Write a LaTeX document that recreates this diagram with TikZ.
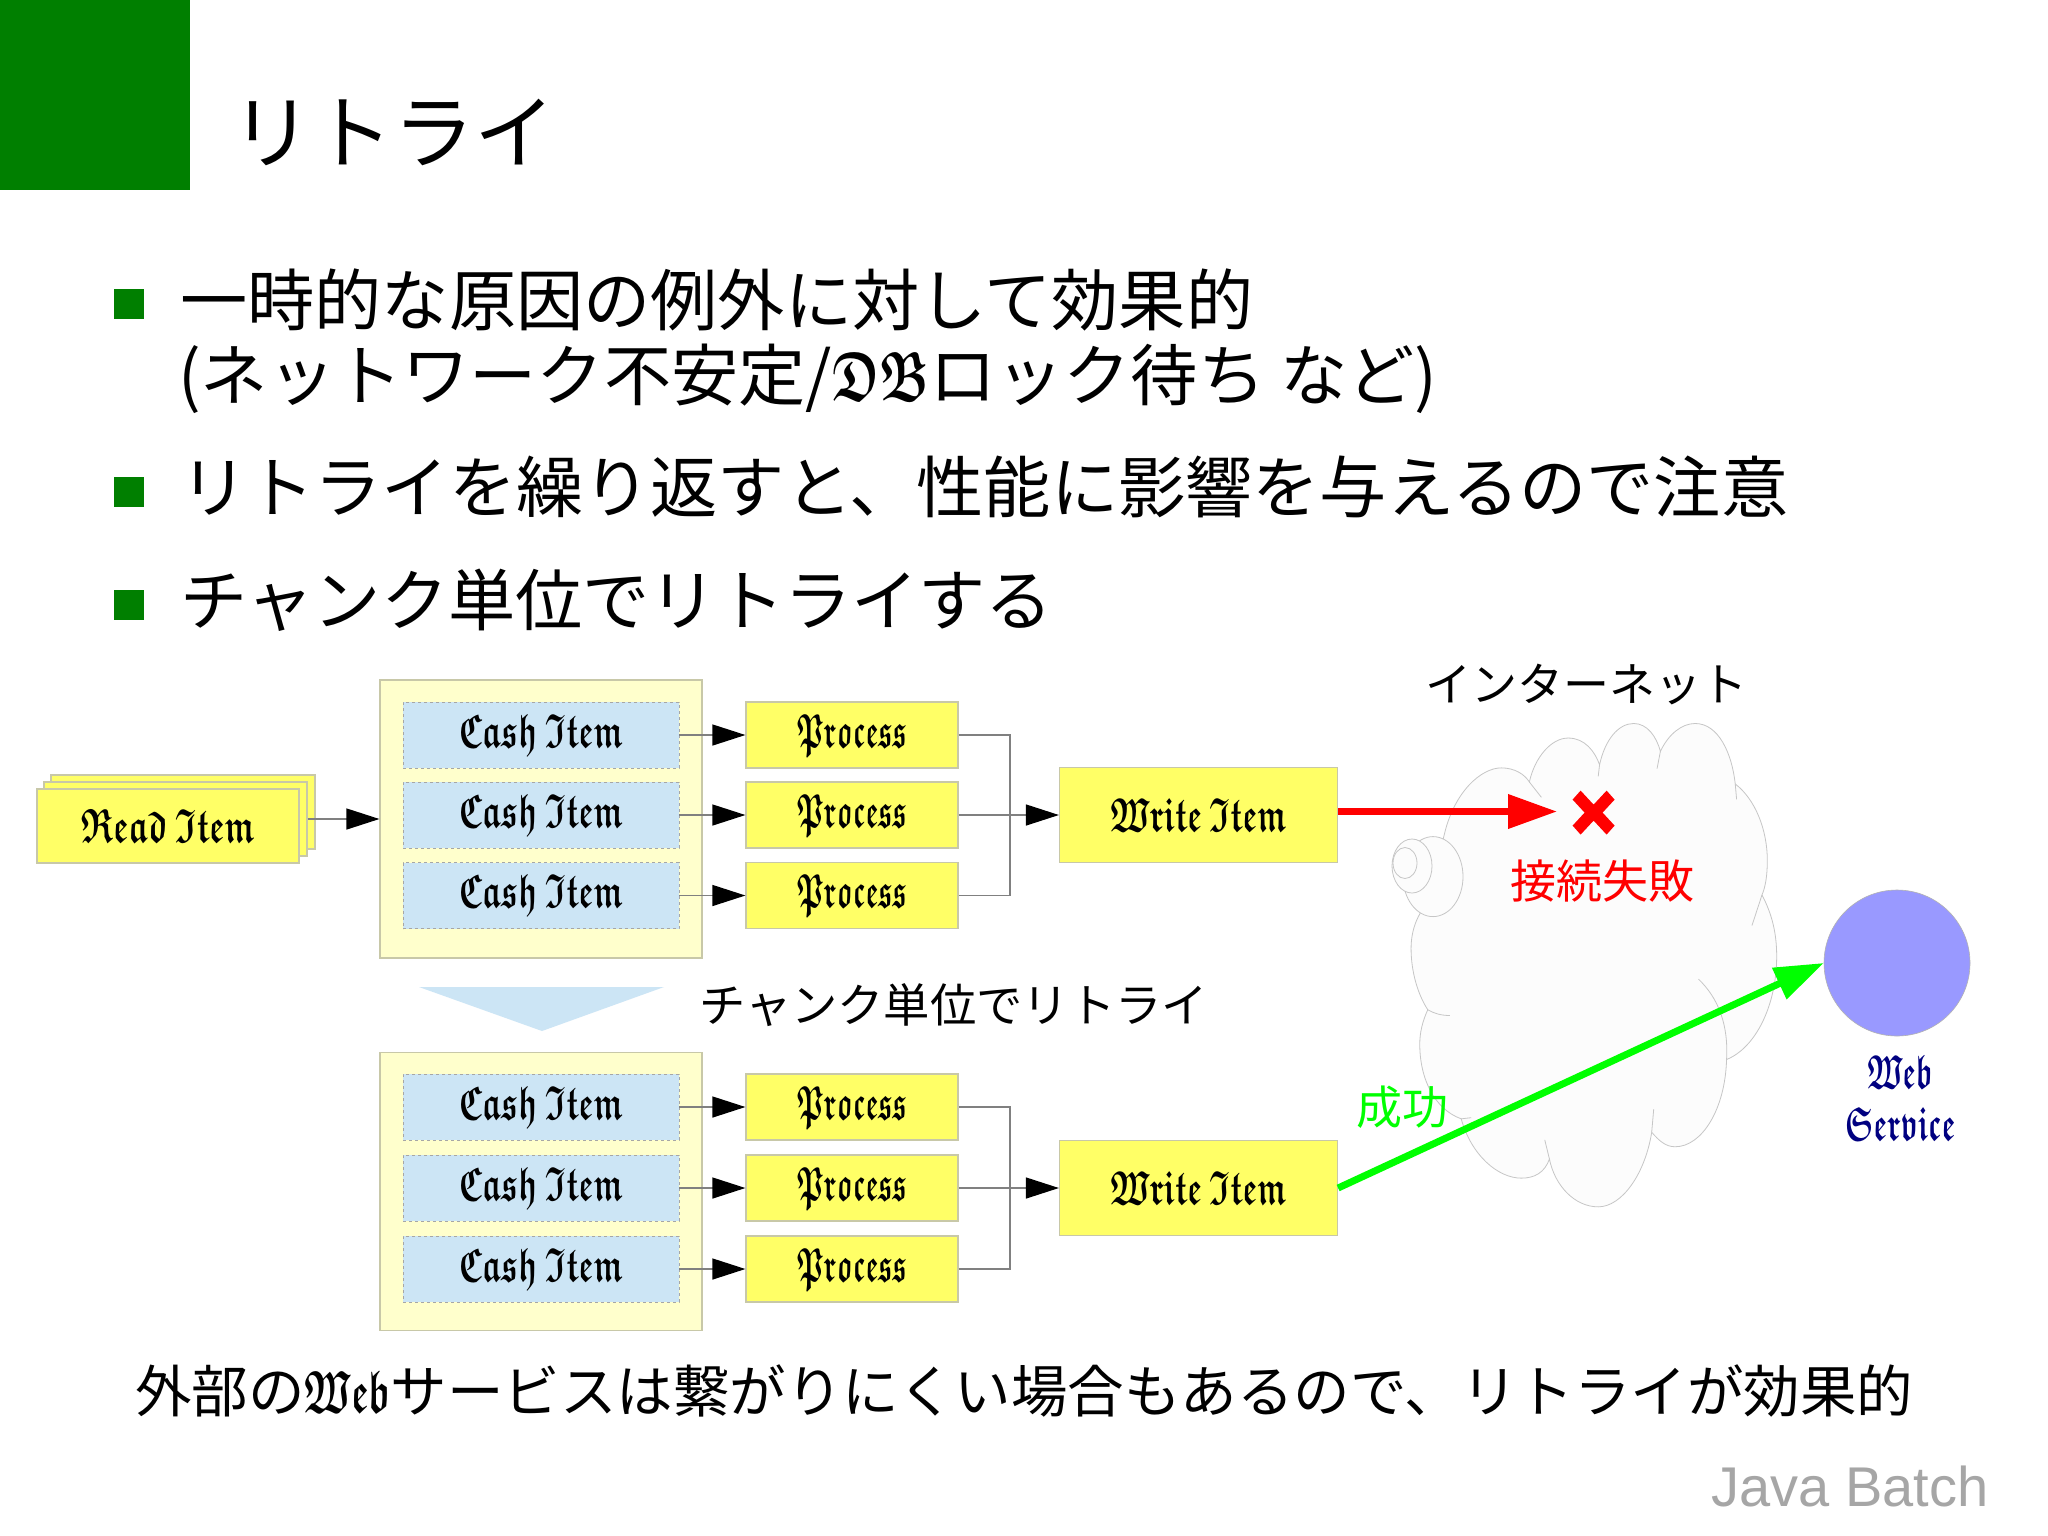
\documentclass[tikz,border=0pt]{standalone}
\usepackage{fontspec}
\usepackage{amssymb}
\usepackage{graphicx}
\setmainfont{Noto Sans CJK JP}
\newfontfamily\javafont{Liberation Sans}
\usetikzlibrary{arrows.meta}
\definecolor{hdgreen}{HTML}{007F00}
\definecolor{boxyellow}{HTML}{FFFF66}
\definecolor{paleyellow}{HTML}{FFFFCC}
\definecolor{paleblue}{HTML}{CCE5F5}
\definecolor{navytext}{HTML}{000080}
\definecolor{edgegray}{HTML}{C8C8A8}
\newcommand{\fs}[1]{\fontsize{#1}{#1}\selectfont}
\newcommand{\bl}[3]{{\scalebox{#1}[#2]{\fontsize{10}{10}\selectfont\boldmath\(\mathfrak{#3}\)}}}
\newcommand{\nodebl}[2]{\bl{#1}{4.8}{#2}}
\tikzset{
  x=1pt,y=-1pt,
  cashbox/.style={draw=gray!70,dashed,line width=0.8pt,fill=paleblue,minimum width=276pt,minimum height=66pt,inner sep=0pt},
  yelbox/.style={draw=edgegray,line width=1.2pt,fill=boxyellow,inner sep=0pt},
  procbox/.style={yelbox,minimum width=212pt,minimum height=66pt},
  writebox/.style={yelbox,minimum width=278pt,minimum height=95pt},
  readbox/.style={yelbox,minimum width=262pt,minimum height=74pt},
  groupbox/.style={draw=edgegray,line width=1.2pt,fill=paleyellow,minimum width=322pt,minimum height=278pt,inner sep=0pt},
  conn/.style={draw=gray,line width=1.3pt},
  arrowconn/.style={conn,-{Triangle[length=33pt,width=21pt,color=black,fill=black]}},
  bullet/.style={fill=hdgreen,minimum size=30pt,inner sep=0pt},
  linetext/.style={anchor=west,inner sep=0pt,font=\fs{67.2}},
  cloudline/.style={draw=gray!45,line width=0.8pt},
}
\begin{document}
\begin{tikzpicture}
\useasboundingbox (0,0) rectangle (2048,1535);
\fill[white] (0,0) rectangle (2048,1535);
% header
\node[fill=hdgreen,minimum size=190pt,inner sep=0pt] (hdr) at (95,95) {};
\node[anchor=west,inner sep=0pt,font=\fs{81}] (title) at (231,132) {リトライ};
% bullets
\node[bullet] (b1) at (128.5,304) {};
\node[bullet] (b2) at (128.5,492) {};
\node[bullet] (b3) at (128.5,605) {};
\node[linetext] (t1) at (180,300) {一時的な原因の例外に対して効果的};
\node[linetext] (t2) at (178,379) {(ネットワーク不安定/\bl{4.8}{7}{DB}ロック待ち など)};
\node[linetext] (t3) at (180,487) {リトライを繰り返すと、性能に影響を与えるので注意};
\node[linetext] (t4) at (180,600) {チャンク単位でリトライする};
% read stack
\node[readbox,minimum width=264pt] (r3) at (183,812) {};
\node[readbox,minimum width=263pt] (r2) at (175.5,819) {};
\node[readbox] (r1) at (168,826) {\nodebl{3.27}{Read\ Item}};
% top group
\node[groupbox] (g1) at (541,819) {};
\node[cashbox] (c1) at (541,735) {\nodebl{3.2}{Cash\ Item}};
\node[cashbox] (c2) at (541,815) {\nodebl{3.2}{Cash\ Item}};
\node[cashbox] (c3) at (541,895.5) {\nodebl{3.2}{Cash\ Item}};
\node[procbox] (p1) at (852,735) {\nodebl{2.73}{Process}};
\node[procbox] (p2) at (852,815) {\nodebl{2.73}{Process}};
\node[procbox] (p3) at (852,895.5) {\nodebl{2.73}{Process}};
\node[writebox] (w1) at (1198.5,815) {\nodebl{3.17}{Write\ Item}};
\coordinate (bus1) at (1010,815);
\draw[arrowconn] (r2) -- (g1);
\draw[arrowconn] (c1) -- (p1);
\draw[arrowconn] (c2) -- (p2);
\draw[arrowconn] (c3) -- (p3);
\draw[conn] (p1.east) -| (bus1);
\draw[conn] (p3.east) -| (bus1);
\draw[arrowconn] (p2) -- (w1);
% triangle and label
\fill[paleblue] (419,987) -- (664,987) -- (542,1031) -- cycle;
\node[anchor=west,inner sep=0pt,font=\fs{46.3}] (chunk) at (699,1005) {チャンク単位でリトライ};
% bottom group
\node[groupbox] (g2) at (541,1191.5) {};
\node[cashbox] (c4) at (541,1107) {\nodebl{3.2}{Cash\ Item}};
\node[cashbox] (c5) at (541,1188) {\nodebl{3.2}{Cash\ Item}};
\node[cashbox] (c6) at (541,1269) {\nodebl{3.2}{Cash\ Item}};
\node[procbox] (p4) at (852,1107) {\nodebl{2.73}{Process}};
\node[procbox] (p5) at (852,1188) {\nodebl{2.73}{Process}};
\node[procbox] (p6) at (852,1269) {\nodebl{2.73}{Process}};
\node[writebox] (w2) at (1198.5,1188) {\nodebl{3.17}{Write\ Item}};
\coordinate (bus2) at (1010,1188);
\draw[arrowconn] (c4) -- (p4);
\draw[arrowconn] (c5) -- (p5);
\draw[arrowconn] (c6) -- (p6);
\draw[conn] (p4.east) -| (bus2);
\draw[conn] (p6.east) -| (bus2);
\draw[arrowconn] (p5) -- (w2);
% cloud
\begin{scope}[shift={(1000,650)},xscale=0.6684,yscale=0.3827]
\draw[cloudline,fill=black!1]
 (640,660) -- (665,480) .. controls (680,370) and (720,308) .. (750,308) .. controls (770,308) and (785,325) .. (792,345)
 .. controls (800,280) and (825,230) .. (850,230) .. controls (875,230) and (890,265) .. (897,300)
 .. controls (905,235) and (925,192) .. (948,192) .. controls (968,192) and (982,225) .. (988,265)
 .. controls (1000,220) and (1020,192) .. (1040,192) .. controls (1075,192) and (1095,270) .. (1100,350)
 .. controls (1130,390) and (1148,470) .. (1148,550) .. controls (1148,590) and (1145,620) .. (1140,640)
 .. controls (1155,690) and (1162,740) .. (1162,800) .. controls (1162,930) and (1130,1040) .. (1087,1070)
 .. controls (1085,1200) and (1050,1298) .. (1010,1298) .. controls (995,1298) and (985,1280) .. (975,1260)
 .. controls (965,1370) and (930,1455) .. (895,1455) .. controls (860,1455) and (830,1400) .. (822,1330)
 .. controls (815,1365) and (800,1380) .. (780,1380) .. controls (745,1380) and (705,1320) .. (690,1225)
 .. controls (650,1200) and (628,1120) .. (628,1030) .. controls (628,1000) and (632,970) .. (640,940)
 .. controls (625,900) and (615,840) .. (615,780) .. controls (615,730) and (625,690) .. (640,660) -- cycle;
\draw[cloudline] (792,345) -- (810,385);
\draw[cloudline] (897,300) -- (895,330);
\draw[cloudline] (988,265) -- (983,310);
\draw[cloudline] (1100,350) -- (1102,390);
\draw[cloudline] (1140,640) -- (1125,720);
\draw[cloudline] (1087,1070) .. controls (1090,980) and (1075,910) .. (1045,860);
\draw[cloudline] (975,1260) -- (978,1200);
\draw[cloudline] (822,1330) -- (815,1280);
\draw[cloudline] (690,1225) -- (705,1222);
\draw[cloudline] (640,940) .. controls (650,950) and (660,955) .. (673,955);
\end{scope}
\draw[cloudline,fill=black!1] (1433,876.6) ellipse [x radius=30,y radius=40];
\draw[cloudline,fill=black!1] (1412,866) ellipse [x radius=20,y radius=27];
\draw[cloudline,fill=black!1] (1405,863) ellipse [x radius=12,y radius=15.5];
\node[anchor=center,inner sep=0pt,font=\fs{46}] (inet) at (1586,684) {インターネット};
% red arrow
\coordinate (fail) at (1557,811.5);
\draw[red,line width=7pt,-{Triangle[length=49pt,width=33pt,fill=red]}] (w1.east |- fail) -- (fail);
\fill[red,shift={(1593.6,812.6)}] (-21,-13) -- (-13,-22) -- (0,-8) -- (13,-22) -- (21,-13) -- (9,0) -- (21,13) -- (13,22) -- (0,8) -- (-13,22) -- (-21,13) -- (-9,0) -- cycle;
\node[inner sep=0pt,red,font=\fs{46}] (fl) at (1602,881) {接続失敗};
% web service
\node[draw=gray!60,line width=0.6pt,circle,minimum size=146pt,inner sep=0pt,fill={rgb,255:red,153;green,153;blue,255}] (ws) at (1897,963) {};
\node[inner sep=0pt,text=navytext] (wt) at (1900,1072) {\nodebl{2.85}{Web}};
\node[inner sep=0pt,text=navytext] (st) at (1900,1124) {\nodebl{2.93}{Service}};
% green arrow
\draw[green,line width=7pt,-{Triangle[length=49pt,width=33pt,fill=green]}] (w2.east) -- (ws.west);
\node[inner sep=0pt,green,font=\fs{46}] (ok) at (1402,1107) {成功};
% bottom
\node[anchor=west,inner sep=0pt,font=\fs{56.5}] (bot) at (135,1391) {外部の\bl{3.75}{6}{Web}サービスは繋がりにくい場合もあるので、リトライが効果的};
\node[anchor=west,inner sep=0pt,text=black!35,font=\javafont\fs{56}] (jb) at (1711,1486) {Java Batch};
\end{tikzpicture}
\end{document}
